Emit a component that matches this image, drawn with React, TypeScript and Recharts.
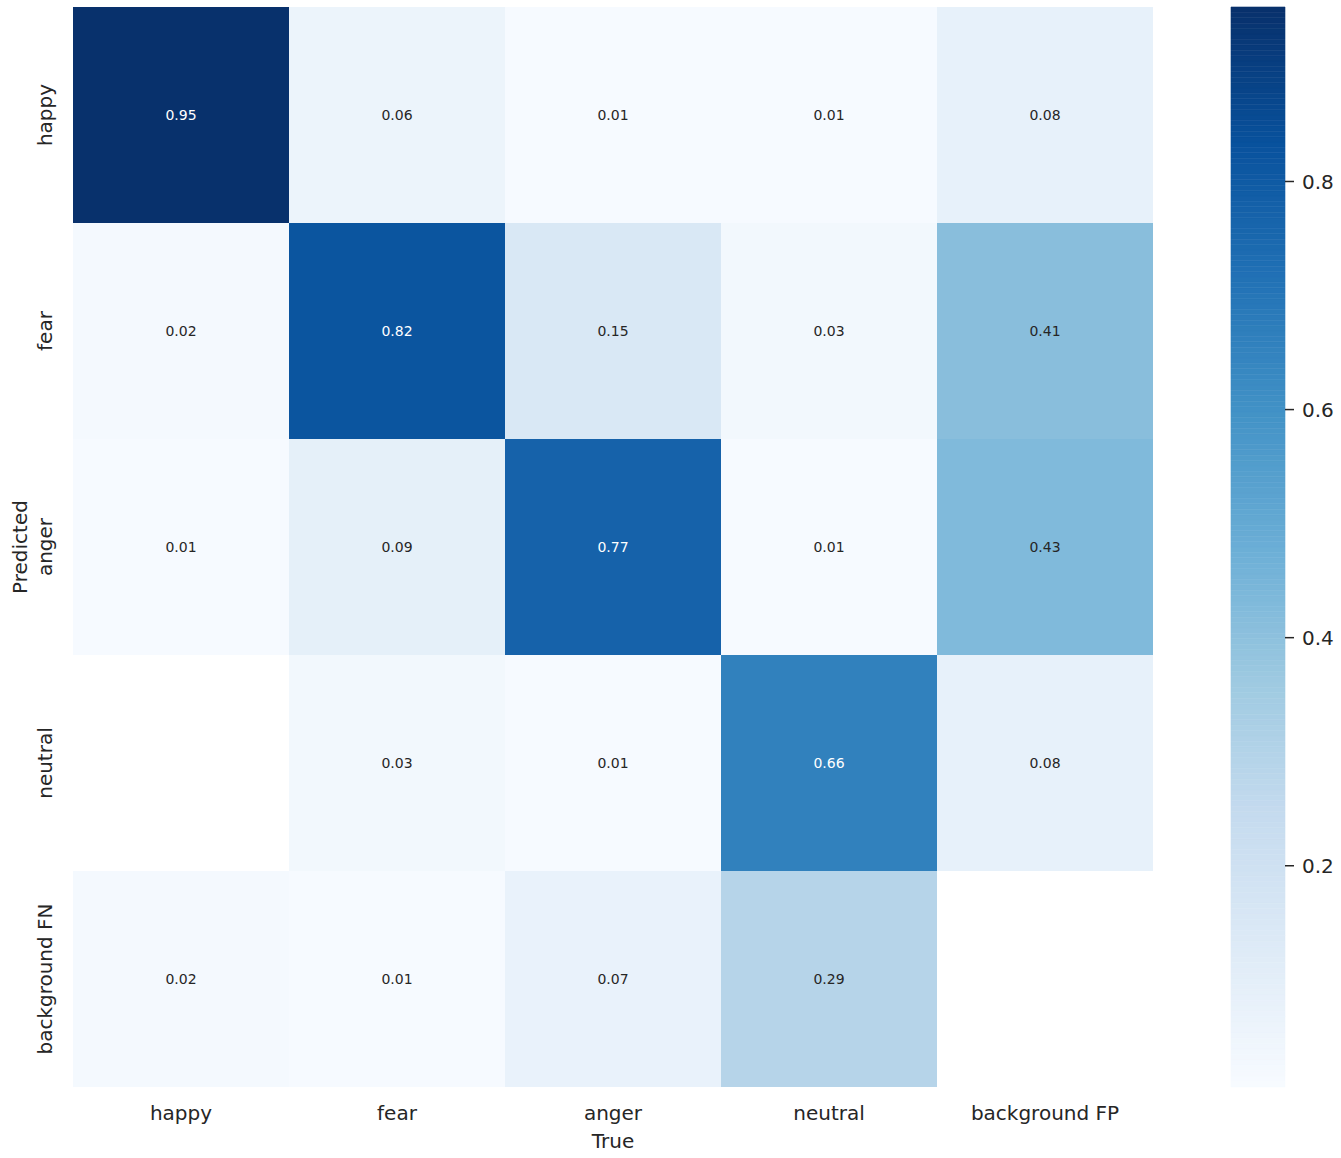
import React from "react";
import { ComposedChart, ReferenceArea, Scatter, ScatterChart, XAxis, YAxis } from "recharts";

const trueLabels = ["happy", "fear", "anger", "neutral", "background FP"];
const predictedLabels = ["happy", "fear", "anger", "neutral", "background FN"];

// rows = Predicted, columns = True; null = blank cell
const happyRow = [0.95, 0.06, 0.01, 0.01, 0.08];
const fearRow = [0.02, 0.82, 0.15, 0.03, 0.41];
const angerRow = [0.01, 0.09, 0.77, 0.01, 0.43];
const neutralRow = [null, 0.03, 0.01, 0.66, 0.08];
const backgroundFnRow = [0.02, 0.01, 0.07, 0.29, null];
const matrix: (number | null)[][] = [happyRow, fearRow, angerRow, neutralRow, backgroundFnRow];

const colorbarTicks = [0.2, 0.4, 0.6, 0.8];
const colorMin = 0.006;
const colorMax = 0.953;

const BLUES = ["#f7fbff", "#deebf7", "#c6dbef", "#9ecae1", "#6baed6", "#4292c6", "#2171b5", "#08519c", "#08306b"];
const TEXT = "#262626";

function hexToRgb(h: string) {
  return [1, 3, 5].map((i) => parseInt(h.slice(i, i + 2), 16));
}

function blues(v: number) {
  const t = Math.min(1, Math.max(0, (v - colorMin) / (colorMax - colorMin)));
  const pos = t * (BLUES.length - 1);
  const i = Math.min(BLUES.length - 2, Math.floor(pos));
  const f = pos - i;
  const a = hexToRgb(BLUES[i]);
  const b = hexToRgb(BLUES[i + 1]);
  const c = a.map((x, k) => Math.round(x + (b[k] - x) * f));
  return `rgb(${c[0]},${c[1]},${c[2]})`;
}

function textColor(fill: string) {
  const [r, g, b] = fill.match(/\d+/g)!.map((n) => {
    const c = Number(n) / 255;
    return c <= 0.03928 ? c / 12.92 : Math.pow((c + 0.055) / 1.055, 2.4);
  });
  const lum = 0.2126 * r + 0.7152 * g + 0.0722 * b;
  return lum > 0.408 ? TEXT : "#ffffff";
}

const cells = matrix.flatMap((row, r) =>
  row.map((value, c) => ({ r, c, value })).filter((d) => d.value !== null)
).map((d) => ({ ...d, x: d.c + 0.5, y: d.r + 0.5, fill: blues(d.value as number) }));

const centerTicks = trueLabels.map((_, i) => i + 0.5);

// colorbar drawn as thin slices of the colormap
const SLICES = 200;
const colorbarSlices = Array.from({ length: SLICES }, (_, i) => {
  const lo = colorMin + ((colorMax - colorMin) * i) / SLICES;
  const hi = colorMin + ((colorMax - colorMin) * (i + 1)) / SLICES;
  return { lo, hi, fill: blues((lo + hi) / 2) };
});

const XTick = ({ x, y, payload }: any) => (
  <text x={x} y={y + 33} textAnchor="middle" fill={TEXT} fontSize={20}>
    {trueLabels[Math.floor(payload.value)]}
  </text>
);

const YTick = ({ x, y, payload }: any) => (
  <text x={x - 21} y={y} textAnchor="middle" fill={TEXT} fontSize={20} transform={`rotate(-90, ${x - 21}, ${y})`}>
    {predictedLabels[Math.floor(payload.value)]}
  </text>
);

const CellText = ({ cx, cy, payload }: any) => (
  <text x={cx} y={cy} textAnchor="middle" dominantBaseline="central" fontSize={14} fill={textColor(payload.fill)}>
    {payload.value.toFixed(2)}
  </text>
);

export default function App() {
  return (
    <div style={{ position: "absolute", left: 0, top: 0, width: 1341, height: 1158, fontFamily: "DejaVu Sans", background: "#fff" }}>
      <div style={{ position: "absolute", left: 0, top: 0 }}>
        <ScatterChart width={1200} height={1158} margin={{ top: 7, right: 47, bottom: 0, left: 0 }}>
          <XAxis
            type="number"
            dataKey="x"
            domain={[0, 5]}
            ticks={centerTicks}
            height={71}
            axisLine={false}
            tickLine={false}
            tickSize={0}
            tickMargin={0}
            tick={<XTick />}
            interval={0}
            label={{
              content: ({ viewBox }: any) => (
                <text x={viewBox.x + viewBox.width / 2} y={viewBox.y + 61} textAnchor="middle" fill={TEXT} fontSize={20}>
                  True
                </text>
              ),
            }}
          />
          <YAxis
            type="number"
            dataKey="y"
            domain={[0, 5]}
            reversed
            ticks={centerTicks}
            width={73}
            axisLine={false}
            tickLine={false}
            tickSize={0}
            tickMargin={0}
            tick={<YTick />}
            interval={0}
            label={{
              content: ({ viewBox }: any) => {
                const cx = viewBox.x + 27;
                const cy = viewBox.y + viewBox.height / 2;
                return (
                  <text x={cx} y={cy} textAnchor="middle" fill={TEXT} fontSize={20} transform={`rotate(-90, ${cx}, ${cy})`}>
                    Predicted
                  </text>
                );
              },
            }}
          />
          {cells.map((d) => (
            <ReferenceArea
              key={`${d.r}-${d.c}`}
              x1={d.c}
              x2={d.c + 1}
              y1={d.r}
              y2={d.r + 1}
              fill={d.fill}
              fillOpacity={1}
              stroke="none"
              shapeRendering="crispEdges"
            />
          ))}
          <Scatter data={cells} shape={<CellText />} isAnimationActive={false} />
        </ScatterChart>
      </div>
      <div style={{ position: "absolute", left: 1200, top: 0 }}>
        <ComposedChart width={141} height={1158} margin={{ top: 7, right: 0, bottom: 71, left: 31 }}>
          <XAxis type="number" dataKey="x" domain={[0, 1]} hide />
          <YAxis
            type="number"
            dataKey="y"
            orientation="right"
            domain={[colorMin, colorMax]}
            ticks={colorbarTicks}
            width={56}
            axisLine={false}
            tickLine={{ stroke: TEXT, strokeWidth: 1.5 }}
            tickSize={9}
            tickMargin={8}
            tick={{ fill: TEXT, fontSize: 20 }}
            tickFormatter={(v: number) => v.toFixed(1)}
            allowDataOverflow
          />
          {colorbarSlices.map((s, i) => (
            <ReferenceArea
              key={i}
              x1={0}
              x2={1}
              y1={s.lo}
              y2={s.hi}
              fill={s.fill}
              fillOpacity={1}
              stroke={s.fill}
              strokeWidth={0.6}
              ifOverflow="visible"
            />
          ))}
          <Scatter data={[{ x: 0.5, y: colorMin }]} shape={() => <g />} isAnimationActive={false} />
        </ComposedChart>
      </div>
    </div>
  );
}
